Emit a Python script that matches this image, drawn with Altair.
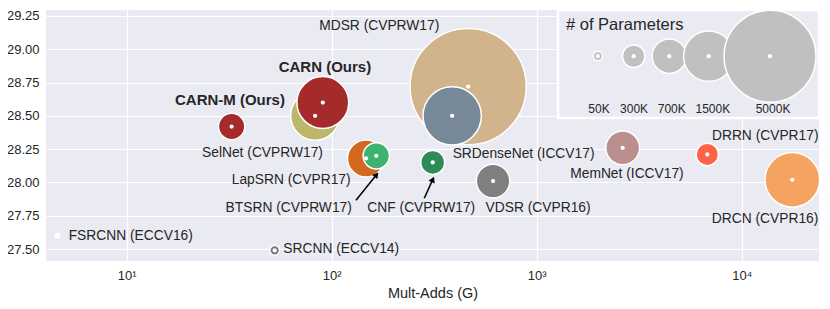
import altair as alt
import pandas as pd

# ---- data ----
models = ["FSRCNN", "SRCNN", "VDSR", "DRCN", "CNF", "DRRN", "LapSRN", "BTSRN",
          "MemNet", "SelNet", "MDSR", "SRDenseNet", "CARN-M", "CARN"]
mult_adds = [4.6, 52.7, 612.6, 17660, 311, 6797, 147, 165, 2627, 83, 463, 387, 32.5, 90.5]
psnr = [27.60, 27.49, 28.01, 28.02, 28.15, 28.21, 28.18, 28.20, 28.26, 28.50, 28.72, 28.50, 28.42, 28.60]
params_k = [12, 57, 665, 1774, 337, 297, 813, 410, 677, 1417, 8000, 2015, 412, 1592]
colors = ["#C0C0C0", "#7A7A7A", "#808080", "#F4A460", "#2E8B57", "#FF6347", "#D2691E", "#3CB371",
          "#BC8F8F", "#BDB76B", "#D2B48C", "#778899", "#A52A2A", "#A52A2A"]

label_text_c = ["VDSR (CVPR16)", "DRCN (CVPR16)", "CNF (CVPRW17)", "DRRN (CVPR17)", "LapSRN (CVPR17)",
                "BTSRN (CVPRW17)", "MemNet (ICCV17)", "SelNet (CVPRW17)", "MDSR (CVPRW17)"]
label_x_c = [1016, 13000, 273.5, 13030, 63.45, 61.7, 2757, 45.96, 170.6]
label_y_c = [27.808, 27.729, 27.808, 28.347, 28.022, 27.808, 28.067, 28.222, 29.174]

label_text_l = ["FSRCNN (ECCV16)", "SRCNN (ECCV14)", "SRDenseNet (ICCV17)"]
label_x_l = [5.21, 58.1, 389]
label_y_l = [27.595, 27.498, 28.21]

bold_text = ["CARN-M (Ours)", "CARN (Ours)"]
bold_x = [31.9, 92.7]
bold_y = [28.618, 28.868]

arrow_x = [131.4, 282.9]
arrow_y = [27.866, 27.881]
arrow_x2 = [165.4, 311.4]
arrow_y2 = [28.058, 28.023]
arrow_angle = [38, 24]

legend_params = [50, 300, 700, 1500, 5000]
legend_labels = ["50K", "300K", "700K", "1500K", "5000K"]
legend_x = [1987, 2974, 4436, 6906, 13740]
legend_label_x = [2014, 2985, 4560, 7230, 14220]
legend_y = 28.948
legend_label_y = 28.55
legend_title = "# of Parameters"
legend_title_x = 1390
legend_title_y = 29.182
legend_box = dict(x=1271, x2=23830, y=28.483, y2=29.295)

x_ticks = [10, 100, 1000, 10000]
y_ticks = [27.5, 27.75, 28.0, 28.25, 28.5, 28.75, 29.0, 29.25]

FONT = "Liberation Sans"
TXT = "#262626"

xs = alt.Scale(type="log", domain=[4.04, 23830], nice=False)
ys = alt.Scale(domain=[27.41, 29.295], nice=False, zero=False)
ss = alt.Scale(type="linear", domain=[0, 8000], range=[0, 13500])

bub = pd.DataFrame({"model": models, "ma": mult_adds, "psnr": psnr, "params": params_k, "color": colors})

xaxis = alt.Axis(values=x_ticks, tickSize=0, domain=False, labelFontSize=13, labelColor=TXT,
                 labelPadding=8, title="Mult-Adds (G)", titleFontSize=14.5, titleFontWeight="normal",
                 titleColor=TXT, titlePadding=4, gridColor="white", gridWidth=1.2, gridOpacity=1,
                 labelFont=FONT, titleFont=FONT,
                 labelExpr="'10' + ['⁰','¹','²','³','⁴','⁵'][round(log(datum.value)/LN10)]")
yaxis = alt.Axis(values=y_ticks, format=".2f", tickSize=0, domain=False, labelFontSize=13,
                 labelColor=TXT, labelPadding=7, title=None, gridColor="white", gridWidth=1.2,
                 gridOpacity=1, labelFont=FONT)


def X(f):
    return alt.X(f, scale=xs, axis=xaxis, title="Mult-Adds (G)")


def Y(f):
    return alt.Y(f, scale=ys, axis=yaxis, title=None)


box = alt.Chart(pd.DataFrame([legend_box])).mark_rect(
    fill="#EAEAF2", stroke="white", strokeWidth=2.5
).encode(x=X("x:Q"), x2="x2:Q", y=Y("y:Q"), y2="y2:Q")

bubbles = alt.Chart(bub).mark_circle(opacity=1, stroke="white", strokeWidth=1.5).encode(
    x=X("ma:Q"), y=Y("psnr:Q"),
    size=alt.Size("params:Q", scale=ss, legend=None),
    color=alt.Color("color:N", scale=None),
)
dots = alt.Chart(bub).mark_circle(opacity=1, color="white", size=18).encode(x=X("ma:Q"), y=Y("psnr:Q"))

leg = pd.DataFrame({"x": legend_x, "lx": legend_label_x, "p": legend_params, "lab": legend_labels,
                    "y": [legend_y] * 5, "ly": [legend_label_y] * 5})
leg_circ = alt.Chart(leg).mark_circle(opacity=1, color="#C0C0C0", stroke="white", strokeWidth=1.5).encode(
    x=X("x:Q"), y=Y("y:Q"), size=alt.Size("p:Q", scale=ss, legend=None))
leg_dots = alt.Chart(leg).mark_circle(opacity=1, color="white", size=18).encode(x=X("x:Q"), y=Y("y:Q"))
leg_lab = alt.Chart(leg).mark_text(font=FONT, fontSize=12, color=TXT, align="center", baseline="middle").encode(
    x=X("lx:Q"), y=Y("ly:Q"), text="lab:N")
leg_title = alt.Chart(pd.DataFrame({"x": [legend_title_x], "y": [legend_title_y], "t": [legend_title]})).mark_text(
    font=FONT, fontSize=16.5, color=TXT, align="left", baseline="middle"
).encode(x=X("x:Q"), y=Y("y:Q"), text="t:N")

lab_c = alt.Chart(pd.DataFrame({"x": label_x_c, "y": label_y_c, "t": label_text_c})).mark_text(
    font=FONT, fontSize=13.8, color=TXT, align="center", baseline="middle"
).encode(x=X("x:Q"), y=Y("y:Q"), text="t:N")
lab_l = alt.Chart(pd.DataFrame({"x": label_x_l, "y": label_y_l, "t": label_text_l})).mark_text(
    font=FONT, fontSize=13.8, color=TXT, align="left", baseline="middle"
).encode(x=X("x:Q"), y=Y("y:Q"), text="t:N")
lab_b = alt.Chart(pd.DataFrame({"x": bold_x, "y": bold_y, "t": bold_text})).mark_text(
    font=FONT, fontSize=15, fontWeight="bold", color=TXT, align="center", baseline="middle"
).encode(x=X("x:Q"), y=Y("y:Q"), text="t:N")

arr = pd.DataFrame({"x": arrow_x, "y": arrow_y, "x2": arrow_x2, "y2": arrow_y2, "a": arrow_angle})
arr_line = alt.Chart(arr).mark_rule(color="black", strokeWidth=1.5).encode(
    x=X("x:Q"), y=Y("y:Q"), x2="x2:Q", y2="y2:Q")
arr_head = alt.Chart(arr).mark_point(shape="triangle-up", filled=True, color="black", opacity=1, size=45).encode(
    x=X("x2:Q"), y=Y("y2:Q"), angle=alt.Angle("a:Q", scale=None))

chart = alt.layer(
    box, bubbles, dots, leg_circ, leg_dots, leg_lab, leg_title, lab_c, lab_l, lab_b, arr_line, arr_head
).properties(
    width=773, height=251,
    padding={"left": 38, "top": 2, "right": 3, "bottom": 40},
    autosize=alt.AutoSizeParams(type="none"),
).configure(font=FONT).configure_view(fill="#EAEAF2", stroke=None)

chart.save("out.html", embed_options={"renderer": "svg", "actions": False})
